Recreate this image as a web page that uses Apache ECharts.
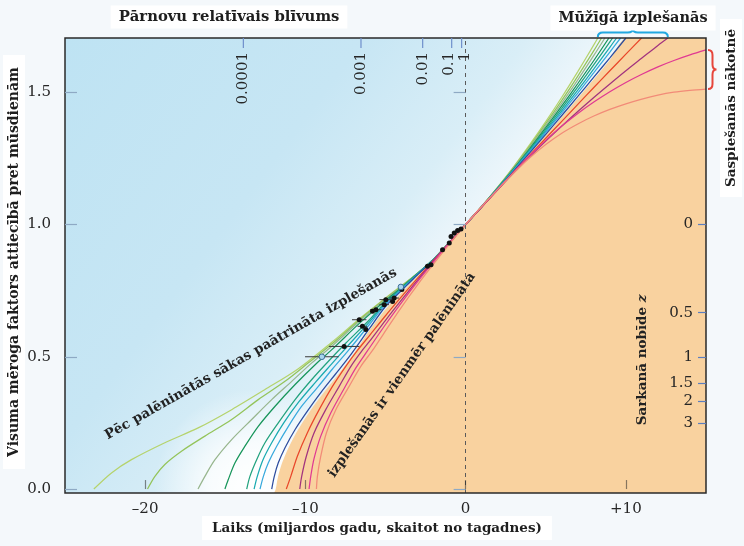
<!DOCTYPE html>
<html>
<head>
<meta charset="utf-8">
<script src="https://cdn.jsdelivr.net/npm/echarts@6/dist/echarts.min.js"></script>
<style>
  html, body { margin: 0; padding: 0; background: #f4f8fb; }
  #chart { width: 744px; height: 546px; }
</style>
</head>
<body>
<div id="chart"></div>
<script>
// Axis ranges and tick values
const timeRange = [-25, 15];          // Gyr, counted from today
const scaleRange = [-0.015, 1.705];   // scale factor relative to today
const timeTicks = [-20, -10, 0, 10];
const scaleTicks = [0, 0.5, 1, 1.5];
const redshiftTicks = [0, 0.5, 1, 1.5, 2, 3];
const densityTickTimes = [-13.87, -6.53, -2.68, -0.87, -0.25];
const densityTickLabels = ['0.0001', '0.001', '0.01', '0.1', '1'];

// Expansion histories [time, scale factor]: models that decelerate first, then accelerate
const accel1 = [[-23.2,0],[-22.1,0.061],[-20.85,0.111],[-18.77,0.175],[-16.69,0.231],[-14.6,0.30],[-12.52,0.376],[-10.44,0.455],[-8.35,0.555],[-6.6,0.645],[-5,0.722],[-4,0.769],[-3,0.816],[-2,0.869],[-1,0.933],[0,1],[1,1.068],[2,1.141],[3,1.219],[4,1.302],[5,1.389],[6,1.481],[7,1.578],[8,1.679],[8.25,1.705]];
const accel2 = [[-19.85,0],[-19.39,0.048],[-18.77,0.093],[-17.73,0.143],[-16.27,0.20],[-14.6,0.263],[-12.94,0.338],[-11.27,0.407],[-9.81,0.477],[-8.35,0.548],[-6.6,0.641],[-5,0.72],[-4,0.767],[-3,0.816],[-2,0.869],[-1,0.933],[0,1],[1,1.068],[2,1.14],[3,1.216],[4,1.296],[5,1.381],[6,1.469],[7,1.561],[8,1.657],[8.48,1.705]];
const accel3 = [[-16.7,0],[-16.27,0.048],[-15.64,0.111],[-14.6,0.187],[-13.35,0.263],[-12.1,0.338],[-10.85,0.407],[-9.6,0.477],[-8.35,0.54],[-6.6,0.636],[-5,0.717],[-4,0.765],[-3,0.816],[-2,0.869],[-1,0.933],[0,1],[1,1.068],[2,1.139],[3,1.214],[4,1.292],[5,1.374],[6,1.459],[7,1.547],[8,1.639],[8.69,1.705]];
const accel4 = [[-15.02,0],[-14.81,0.036],[-14.39,0.099],[-13.77,0.162],[-12.94,0.237],[-11.89,0.313],[-10.64,0.395],[-9.39,0.47],[-8.35,0.527],[-6.6,0.628],[-5,0.713],[-4,0.762],[-3,0.815],[-2,0.869],[-1,0.933],[0,1],[1,1.067],[2,1.138],[3,1.211],[4,1.287],[5,1.366],[6,1.448],[7,1.533],[8,1.62],[8.94,1.705]];
const accel5 = [[-13.66,0],[-13.46,0.048],[-13.04,0.111],[-12.52,0.175],[-11.69,0.25],[-10.64,0.338],[-9.6,0.414],[-8.56,0.483],[-7.5,0.55],[-6,0.64],[-5,0.706],[-4,0.759],[-3,0.814],[-2,0.868],[-1,0.933],[0,1],[1,1.067],[2,1.137],[3,1.209],[4,1.283],[5,1.36],[6,1.439],[7,1.52],[8,1.604],[9,1.69],[9.17,1.705]];
const accel6 = [[-13.2,0],[-13.0,0.048],[-12.65,0.11],[-12.1,0.175],[-11.35,0.25],[-10.4,0.33],[-9.35,0.405],[-8.4,0.47],[-7.4,0.538],[-6,0.632],[-5,0.702],[-4,0.757],[-3,0.813],[-2,0.868],[-1,0.932],[0,1],[1,1.067],[2,1.136],[3,1.206],[4,1.279],[5,1.353],[6,1.43],[7,1.508],[8,1.588],[9,1.67],[9.42,1.705]];
const accel7 = [[-12.83,0],[-12.62,0.048],[-12.31,0.099],[-11.79,0.162],[-11.06,0.237],[-10.23,0.313],[-9.19,0.388],[-8.35,0.451],[-7.3,0.525],[-6,0.622],[-5,0.698],[-4,0.754],[-3,0.811],[-2,0.867],[-1,0.932],[0,1],[1,1.067],[2,1.135],[3,1.205],[4,1.275],[5,1.348],[6,1.422],[7,1.497],[8,1.574],[9,1.652],[9.67,1.705]];
const accel8 = [[-12.1,0],[-11.94,0.048],[-11.69,0.099],[-11.27,0.156],[-10.64,0.225],[-9.81,0.30],[-8.98,0.369],[-8.14,0.433],[-7.2,0.505],[-6,0.607],[-5,0.69],[-4,0.75],[-3,0.81],[-2,0.866],[-1,0.932],[0,1],[1,1.066],[2,1.134],[3,1.202],[4,1.271],[5,1.341],[6,1.412],[7,1.484],[8,1.557],[9,1.63],[10,1.705]];

// Models that keep decelerating
const decel1 = [[-11.19,0],[-10.91,0.048],[-10.5,0.124],[-9.88,0.212],[-9.14,0.30],[-8.31,0.388],[-7.48,0.464],[-6.75,0.524],[-6,0.58],[-5,0.655],[-4,0.727],[-3,0.797],[-2,0.865],[-1,0.933],[0,1],[1,1.066],[2,1.132],[3,1.198],[4,1.262],[5,1.326],[6,1.39],[7,1.454],[8,1.518],[9,1.581],[10,1.644],[10.98,1.705]];
const decel2 = [[-10.35,0],[-10.23,0.048],[-9.94,0.124],[-9.46,0.212],[-8.73,0.30],[-7.89,0.388],[-7.16,0.464],[-6.44,0.525],[-6,0.558],[-5,0.638],[-4,0.715],[-3,0.79],[-2,0.862],[-1,0.932],[0,1],[1,1.066],[2,1.131],[3,1.195],[4,1.256],[5,1.315],[6,1.372],[7,1.427],[8,1.48],[9,1.531],[10,1.581],[11,1.629],[12,1.677],[12.62,1.705]];
const decel3 = [[-9.77,0],[-9.66,0.05],[-9.46,0.115],[-9.04,0.2],[-8.41,0.288],[-7.58,0.38],[-6.85,0.458],[-6.13,0.522],[-5,0.622],[-4,0.705],[-3,0.784],[-2,0.859],[-1,0.931],[0,1],[1,1.067],[2,1.133],[3,1.198],[4,1.26],[5,1.318],[6,1.372],[7,1.42],[8,1.463],[9,1.502],[10,1.537],[11,1.568],[12,1.596],[13,1.62],[14,1.641],[15,1.66]];
const decel4 = [[-9.31,0],[-9.25,0.048],[-9.04,0.124],[-8.69,0.212],[-8.1,0.30],[-7.27,0.388],[-6.54,0.464],[-5.81,0.524],[-5,0.598],[-4,0.688],[-3,0.772],[-2,0.851],[-1,0.927],[0,1],[1,1.068],[2,1.133],[3,1.195],[4,1.252],[5,1.302],[6,1.345],[7,1.38],[8,1.41],[9,1.435],[10,1.456],[11,1.474],[12,1.489],[13,1.5],[14,1.507],[15,1.512]];

// Edge of the always-decelerating region (filled to the right / below)
const decelBoundary = [[-11.95,-0.015],[-11.85,0],[-11.7,0.048],[-11.45,0.099],[-11.05,0.156],[-10.45,0.225],[-9.65,0.30],[-8.8,0.369],[-7.95,0.433],[-7.0,0.51],[-6,0.6],[-5,0.68],[-4,0.742],[-3,0.805],[-2,0.865],[-1,0.932],[0,1],[1,1.066],[2,1.132],[3,1.2],[4,1.268],[5,1.337],[6,1.406],[7,1.477],[8,1.549],[9,1.622],[10.1,1.705],[15,1.705]];

// Supernova measurements
const snTime  = [-0.29,-0.5,-0.71,-0.91,-1.02,-1.44,-2.16,-2.38,-3.98,-4.46,-4.56,-4.98,-5.08,-5.6,-5.81,-6.64,-6.44,-6.23,-7.58];
const snScale = [0.983,0.977,0.968,0.955,0.93,0.905,0.848,0.842,0.754,0.722,0.709,0.716,0.697,0.678,0.672,0.64,0.615,0.603,0.539];
const snErr   = [0,0,0,0,0,0,0,0,0,0.3,0,0.4,0.3,0.35,0,0.45,0.3,0,0.95];
const snOpenTime  = [-4.04, -8.97];
const snOpenScale = [0.764, 0.50];
const snOpenErr   = [0, 1.05];

const SERIF = "'DejaVu Serif', 'Liberation Serif', serif";

const curveStyles = [
  { data: accel1, color: '#b5d36c' },
  { data: accel2, color: '#94c45a' },
  { data: accel3, color: '#98b68e' },
  { data: accel4, color: '#17955a' },
  { data: accel5, color: '#22a27e' },
  { data: accel6, color: '#19aab0' },
  { data: accel7, color: '#38a9dd' },
  { data: accel8, color: '#2d4c9e' },
  { data: decel1, color: '#e9472a' },
  { data: decel2, color: '#a2337e' },
  { data: decel3, color: '#e03a92' },
  { data: decel4, color: '#f28b78' }
];

const chart = echarts.init(document.getElementById('chart'), null, { renderer: 'canvas' });

function renderBackdrop(params, api) {
  const cs = params.coordSys;
  const corner = [cs.x, cs.y];
  const p1 = api.coord([-12, 0]);
  const p2 = api.coord([9, 1.705]);
  let nx = p2[1] - p1[1], ny = p1[0] - p2[0];
  const len = Math.hypot(nx, ny);
  nx = nx / len; ny = ny / len;
  if (nx < 0) { nx = -nx; ny = -ny; }
  const proj = (p1[0] - corner[0]) * nx + (p1[1] - corner[1]) * ny;
  const end = [corner[0] + nx * proj, corner[1] + ny * proj];
  const glow = api.coord([-13.2, 0]);
  return {
    type: 'group',
    children: [
      {
        type: 'rect',
        shape: { x: cs.x, y: cs.y, width: cs.width, height: cs.height },
        style: {
          fill: new echarts.graphic.LinearGradient(corner[0], corner[1], end[0], end[1], [
            { offset: 0, color: '#bee3f3' },
            { offset: 0.55, color: '#c7e6f4' },
            { offset: 0.85, color: '#d9eef7' },
            { offset: 1, color: '#edf6fb' }
          ], true)
        }
      },
      {
        type: 'rect',
        shape: { x: cs.x, y: cs.y, width: cs.width, height: cs.height },
        style: {
          fill: new echarts.graphic.RadialGradient(glow[0], glow[1], 100, [
            { offset: 0, color: 'rgba(255,255,255,1)' },
            { offset: 0.45, color: 'rgba(255,255,255,0.8)' },
            { offset: 1, color: 'rgba(255,255,255,0)' }
          ], true)
        }
      }
    ]
  };
}

function renderSupernova(params, api) {
  const t = api.value(0), a = api.value(1), e = api.value(2), open = api.value(3);
  const p = api.coord([t, a]);
  const children = [];
  if (e > 0) {
    const l = api.coord([t - e, a]), r = api.coord([t + e, a]);
    children.push({ type: 'line', shape: { x1: l[0], y1: l[1], x2: r[0], y2: r[1] }, style: { stroke: '#3a3a3a', lineWidth: 1 } });
  }
  children.push({
    type: 'circle',
    shape: { cx: p[0], cy: p[1], r: open ? 2.8 : 2.5 },
    style: open ? { fill: '#a9d6ee', stroke: '#3f6f98', lineWidth: 1 } : { fill: '#111' }
  });
  return { type: 'group', children };
}

// Curly braces grouping the eternally expanding and the recollapsing futures
const allCurves = curveStyles.map(c => c.data);
const topEnds = allCurves.map(d => d[d.length - 1]).filter(p => p[1] >= scaleRange[1]).map(p => p[0]);
const sideEnds = allCurves.map(d => d[d.length - 1]).filter(p => p[0] >= timeRange[1]).map(p => p[1]);

function renderBraces(params, api) {
  const topY = api.coord([0, scaleRange[1]])[1];
  const x1 = api.coord([Math.min(...topEnds), 0])[0], x2 = api.coord([Math.max(...topEnds), 0])[0], xm = (x1 + x2) / 2;
  const y0 = topY - 1, yb = topY - 5.5, yc = topY - 9.5;
  const rightX = api.coord([timeRange[1], 0])[0];
  const y1 = api.coord([0, Math.max(...sideEnds)])[1], y2 = api.coord([0, Math.min(...sideEnds)])[1], ym = (y1 + y2) / 2;
  const x0 = rightX + 2, xb = rightX + 6.5, xc = rightX + 10.5;
  return {
    type: 'group',
    children: [
      {
        type: 'path',
        shape: { pathData: `M${x1},${y0} Q${x1},${yb} ${x1 + 5},${yb} L${xm - 5},${yb} Q${xm},${yb} ${xm},${yc} Q${xm},${yb} ${xm + 5},${yb} L${x2 - 5},${yb} Q${x2},${yb} ${x2},${y0}` },
        style: { stroke: '#22a8e0', lineWidth: 2, fill: null }
      },
      {
        type: 'path',
        shape: { pathData: `M${x0},${y1} Q${xb},${y1} ${xb},${y1 + 5} L${xb},${ym - 5} Q${xb},${ym} ${xc},${ym} Q${xb},${ym} ${xb},${ym + 5} L${xb},${y2 - 5} Q${xb},${y2} ${x0},${y2}` },
        style: { stroke: '#e6463c', lineWidth: 2, fill: null }
      }
    ]
  };
}

// Supernova density scale along the top edge
function renderDensityScale(params, api) {
  const topY = api.coord([0, scaleRange[1]])[1];
  const xs = densityTickTimes.map(t => api.coord([t, scaleRange[1]])[0]);
  const children = [];
  xs.forEach((x, i) => {
    children.push({ type: 'line', shape: { x1: x, y1: topY, x2: x, y2: topY + 10 }, style: { stroke: '#6f8fcb', lineWidth: 1.2 } });
    let lx = x;
    if (i > 0 && x - xs[i - 1] < 14) lx += 3;
    if (i < xs.length - 1 && xs[i + 1] - x < 14) lx -= 3;
    children.push({
      type: 'text', x: lx, y: topY + 14, rotation: Math.PI / 2,
      style: { text: densityTickLabels[i], font: '15px ' + SERIF, fill: '#262626', align: 'right', verticalAlign: 'middle' }
    });
  });
  return { type: 'group', children };
}

const snData = snTime.map((t, i) => [t, snScale[i], snErr[i], 0])
  .concat(snOpenTime.map((t, i) => [t, snOpenScale[i], snOpenErr[i], 1]));

const axisText = { fontFamily: SERIF, fontSize: 15, color: '#262626' };

chart.setOption({
  animation: false,
  backgroundColor: '#f4f8fb',
  textStyle: { fontFamily: SERIF },
  grid: { left: 65, top: 38, width: 641, height: 455, show: true, borderColor: '#2a2a2a', borderWidth: 1.5, backgroundColor: 'transparent', z: 10 },
  xAxis: [{
    type: 'value', min: timeRange[0], max: timeRange[1], z: 10,
    axisLine: { show: false },
    splitLine: { show: false },
    axisTick: { customValues: timeTicks, inside: true, length: 9, lineStyle: { color: 'rgba(40,40,40,0.55)', width: 1.2 } },
    axisLabel: {
      customValues: timeTicks, margin: 9, ...axisText,
      formatter: v => v < 0 ? '\u2013' + Math.abs(v) : (v > 0 ? '+' + v : '0')
    }
  }],
  yAxis: [{
    type: 'value', min: scaleRange[0], max: scaleRange[1], position: 'left', z: 10,
    axisLine: { show: false },
    splitLine: { show: false },
    axisTick: { customValues: scaleTicks, length: 12, lineStyle: { color: '#8ea9c4', width: 1.2 } },
    axisLabel: { customValues: scaleTicks, margin: 14, ...axisText, formatter: v => v.toFixed(1) }
  }, {
    type: 'value', min: scaleRange[0], max: scaleRange[1], position: 'right', z: 10,
    axisLine: { show: false },
    splitLine: { show: false },
    axisTick: { customValues: redshiftTicks.map(z => 1 / (1 + z)), inside: true, length: 8, lineStyle: { color: '#5b7ec0', width: 1.2 } },
    axisLabel: {
      customValues: redshiftTicks.map(z => 1 / (1 + z)), inside: true, margin: 13, ...axisText,
      formatter: v => String(+(1 / v - 1).toFixed(1))
    }
  }, {
    type: 'value', min: scaleRange[0], max: scaleRange[1], position: 'left', z: 10,
    axisLine: { show: false },
    splitLine: { show: false },
    axisTick: { customValues: scaleTicks, inside: true, length: 12, lineStyle: { color: '#8ea9c4', width: 1.2 } },
    axisLabel: { show: false }
  }],
  series: [
    { type: 'custom', z: 0, silent: true, renderItem: renderBackdrop, data: [[0, 0]] },
    {
      type: 'line', z: 1, silent: true, data: decelBoundary, showSymbol: false,
      smooth: 0.3,
      lineStyle: { opacity: 0 },
      areaStyle: { color: '#f9d29f', opacity: 1, origin: 'start' },
      markLine: {
        silent: true, symbol: ['none', 'none'], label: { show: false },
        lineStyle: { type: [4, 4], color: '#5a5a5a', width: 1 },
        data: [{ xAxis: 0 }]
      }
    },
    ...curveStyles.map(c => ({
      type: 'line', z: 3, silent: true, data: c.data, showSymbol: false,
      smooth: 0.3,
      lineStyle: { color: c.color, width: 1.25 }
    })),
    { type: 'custom', z: 5, silent: true, renderItem: renderSupernova, data: snData },
    { type: 'custom', z: 12, silent: true, clip: false, renderItem: renderDensityScale, data: [[0, 0]] },
    { type: 'custom', z: 12, silent: true, clip: false, renderItem: renderBraces, data: [[0, 0]] }
  ]
});

// Titles and in-plot notes
const px = (t, a) => chart.convertToPixel({ gridIndex: 0 }, [t, a]);
const boldFont = size => 'bold ' + size + 'px ' + SERIF;
const gfx = [];
const label = (x, y, text, rot, size, box, extra) => ({
  type: 'text', z: 20, x, y, rotation: rot,
  style: Object.assign({ text, font: boldFont(size), fill: '#1e1e1e', align: 'center', verticalAlign: 'middle' },
    box ? { backgroundColor: '#fff', padding: box } : {}, extra || {})
});

gfx.push(label(229, 17, 'Pārnovu relatīvais blīvums', 0, 14.8, [4, 8]));
gfx.push(label(633, 18, 'Mūžīgā izplešanās', 0, 14.5, [5, 8]));
gfx.push(label(731, 108, 'Saspiešanās nākotnē', Math.PI / 2, 13.5, [4, 10]));
gfx.push(label(14, 262, 'Visuma mēroga faktors attiecībā pret mūsdienām', Math.PI / 2, 14, [4, 12]));
gfx.push(label(377, 528, 'Laiks (miljardos gadu, skaitot no tagadnes)', 0, 13.5, [5, 10]));

{
  const p = px(-13.4, 0.51);
  gfx.push(label(p[0], p[1], 'Pēc palēninātās sākas paātrināta izplešanās', 29.6 * Math.PI / 180, 13.5, null, { fill: '#222' }));
  const q = px(-3.97, 0.431);
  gfx.push(label(q[0], q[1], 'izplešanās ir vienmēr palēnināta', 55 * Math.PI / 180, 13.5, null, { fill: '#222' }));
  const r = px(11.06, 0.488);
  gfx.push(label(r[0], r[1], 'Sarkanā nobīde {it|z}', Math.PI / 2, 13.5, null,
    { fill: '#222', rich: { it: { font: 'italic bold 13.5px ' + SERIF, fill: '#222' } } }));
}

chart.setOption({ graphic: gfx });
</script>
</body>
</html>
